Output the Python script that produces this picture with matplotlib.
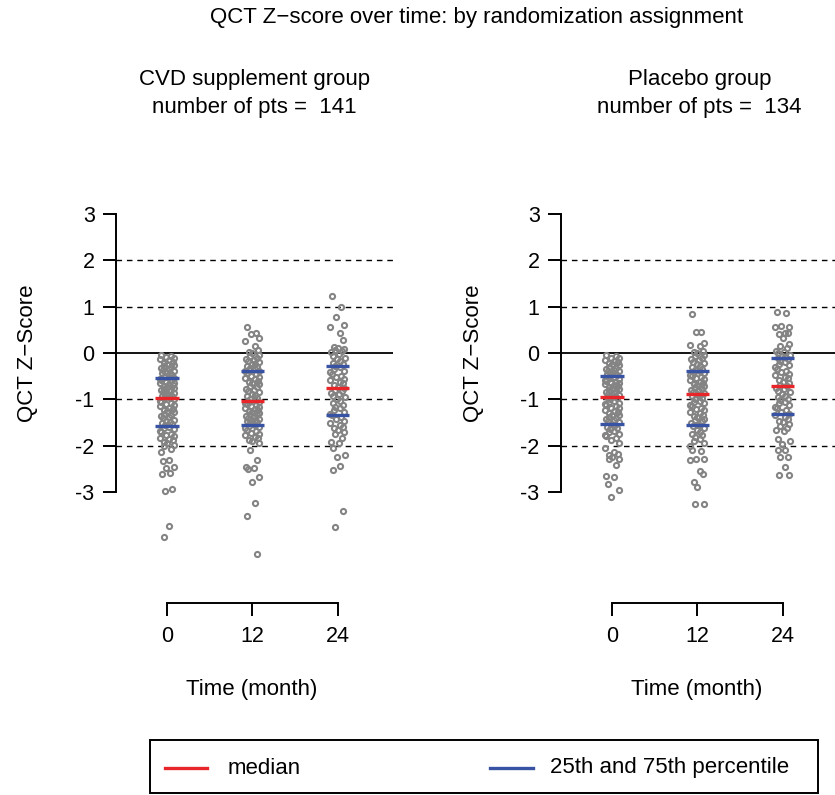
import matplotlib
matplotlib.use("Agg")
import matplotlib.pyplot as plt
from matplotlib.lines import Line2D
from matplotlib.patches import Rectangle

plt.rcParams.update({"font.family": ["Liberation Sans", "DejaVu Sans"],
                     "axes.unicode_minus": False})

TIMES = [0, 12, 24]
GROUPS = ["CVD supplement group", "Placebo group"]
N_PTS = [141, 134]

# z-scores, one list per group and visit
CVD_0 = [-0.04, -0.06, -0.09, -0.11, -0.14, -0.16, -0.19, -0.21, -0.23, -0.26, -0.28, -0.30,
         -0.33, -0.35, -0.36, -0.39, -0.41, -0.43, -0.44, -0.47, -0.49, -0.51, -0.52, -0.54,
         -0.56, -0.58, -0.60, -0.62, -0.65, -0.66, -0.68, -0.70, -0.72, -0.74, -0.76, -0.78,
         -0.80, -0.81, -0.83, -0.85, -0.87, -0.88, -0.90, -0.92, -0.93, -0.95, -0.96, -0.98,
         -1.00, -1.03, -1.05, -1.08, -1.10, -1.13, -1.15, -1.18, -1.21, -1.23, -1.26, -1.28,
         -1.31, -1.33, -1.36, -1.38, -1.41, -1.44, -1.46, -1.49, -1.51, -1.54, -1.56, -1.59,
         -1.62, -1.65, -1.68, -1.71, -1.74, -1.77, -1.80, -1.83, -1.86, -1.89, -1.92, -1.95,
         -1.98, -2.01, -2.07, -2.13, -2.31, -2.33, -2.46, -2.48, -2.59, -2.61, -2.94, -2.98,
         -3.73, -3.97]
CVD_12 = [0.57, 0.44, 0.41, 0.33, 0.26, 0.14, 0.07, 0.02, -0.01, -0.04, -0.07, -0.10,
          -0.13, -0.15, -0.18, -0.20, -0.23, -0.25, -0.28, -0.30, -0.32, -0.34, -0.36, -0.38,
          -0.40, -0.43, -0.46, -0.49, -0.52, -0.54, -0.57, -0.60, -0.63, -0.65, -0.68, -0.71,
          -0.74, -0.77, -0.80, -0.82, -0.85, -0.88, -0.91, -0.94, -0.97, -0.99, -1.02, -1.05,
          -1.07, -1.09, -1.11, -1.13, -1.15, -1.17, -1.19, -1.21, -1.23, -1.26, -1.28, -1.30,
          -1.32, -1.34, -1.36, -1.38, -1.40, -1.42, -1.44, -1.46, -1.48, -1.50, -1.52, -1.55,
          -1.57, -1.60, -1.63, -1.66, -1.69, -1.72, -1.75, -1.78, -1.81, -1.84, -1.87, -1.90,
          -1.94, -2.09, -2.31, -2.46, -2.48, -2.50, -2.68, -2.78, -3.24, -3.53, -4.34]
CVD_24 = [1.22, 1.00, 0.78, 0.60, 0.56, 0.44, 0.28, 0.12, 0.10, 0.09, 0.07, 0.04,
          0.01, -0.03, -0.07, -0.11, -0.14, -0.18, -0.21, -0.24, -0.28, -0.31, -0.35,
          -0.38, -0.42, -0.45, -0.49, -0.52, -0.56, -0.59, -0.63, -0.66, -0.70, -0.73,
          -0.75, -0.79, -0.82, -0.86, -0.89, -0.93, -0.96, -1.00, -1.04, -1.08, -1.12,
          -1.16, -1.20, -1.24, -1.28, -1.32, -1.35, -1.39, -1.43, -1.47, -1.51, -1.55,
          -1.59, -1.63, -1.67, -1.71, -1.76, -1.84, -1.92, -1.94, -2.05, -2.20, -2.24,
          -2.45, -2.52, -3.41, -3.76]
PLA_0 = [-0.04, -0.07, -0.10, -0.12, -0.15, -0.17, -0.20, -0.22, -0.25, -0.27, -0.30, -0.32,
         -0.34, -0.36, -0.38, -0.40, -0.42, -0.44, -0.46, -0.48, -0.50, -0.52, -0.54, -0.56,
         -0.58, -0.60, -0.62, -0.64, -0.66, -0.68, -0.70, -0.72, -0.74, -0.76, -0.78, -0.80,
         -0.82, -0.84, -0.86, -0.88, -0.90, -0.92, -0.94, -0.95, -0.97, -1.00, -1.03, -1.05,
         -1.08, -1.10, -1.13, -1.15, -1.18, -1.20, -1.23, -1.25, -1.28, -1.30, -1.33, -1.35,
         -1.38, -1.40, -1.43, -1.45, -1.48, -1.50, -1.53, -1.56, -1.59, -1.62, -1.65, -1.68,
         -1.71, -1.74, -1.77, -1.80, -1.84, -1.88, -1.94, -2.05, -2.15, -2.18, -2.20, -2.25,
         -2.28, -2.30, -2.42, -2.66, -2.68, -2.83, -2.96, -3.11]
PLA_12 = [0.84, 0.46, 0.45, 0.22, 0.18, 0.14, 0.05, 0.02, -0.01, -0.04, -0.07, -0.10,
          -0.13, -0.16, -0.19, -0.22, -0.25, -0.28, -0.31, -0.34, -0.37, -0.40, -0.42, -0.44,
          -0.47, -0.49, -0.52, -0.54, -0.57, -0.59, -0.62, -0.64, -0.67, -0.69, -0.72, -0.74,
          -0.77, -0.79, -0.82, -0.84, -0.86, -0.88, -0.91, -0.94, -0.97, -1.00, -1.03, -1.06,
          -1.09, -1.12, -1.15, -1.18, -1.21, -1.24, -1.27, -1.30, -1.33, -1.36, -1.39, -1.42,
          -1.45, -1.48, -1.51, -1.55, -1.58, -1.62, -1.66, -1.70, -1.74, -1.78, -1.82, -1.86,
          -1.90, -1.95, -2.00, -2.10, -2.12, -2.28, -2.30, -2.32, -2.54, -2.61, -2.78, -2.89,
          -3.26, -3.26]
PLA_24 = [0.88, 0.86, 0.58, 0.56, 0.55, 0.43, 0.42, 0.41, 0.32, 0.19, 0.16, 0.11, 0.05,
          0.02, -0.01, -0.04, -0.07, -0.09, -0.11, -0.14, -0.17, -0.20, -0.24, -0.27, -0.31,
          -0.34, -0.38, -0.41, -0.45, -0.48, -0.52, -0.55, -0.59, -0.62, -0.66, -0.69, -0.72,
          -0.75, -0.78, -0.82, -0.85, -0.88, -0.92, -0.95, -0.99, -1.02, -1.06, -1.09, -1.13,
          -1.16, -1.20, -1.24, -1.27, -1.31, -1.34, -1.38, -1.42, -1.46, -1.50, -1.54, -1.58,
          -1.62, -1.66, -1.68, -1.86, -1.90, -1.97, -2.09, -2.10, -2.24, -2.25, -2.47, -2.63,
          -2.64]
SCORES = [[CVD_0, CVD_12, CVD_24], [PLA_0, PLA_12, PLA_24]]

# quartiles: 75th, median, 25th
Q75 = [[-0.55, -0.38, -0.28], [-0.50, -0.40, -0.11]]
MED = [[-0.97, -1.04, -0.76], [-0.95, -0.88, -0.72]]
Q25 = [[-1.58, -1.55, -1.35], [-1.53, -1.55, -1.31]]

# horizontal jitter (months), reused in turn
JIT = [-0.8, 0.5, -0.2, 0.9, -1.0, 0.3, 0.8, -0.5, 0.0, 0.9, -0.4, 0.6, -0.9,
       0.2, -0.6, 1.0, -0.1, 0.4, -0.7, 0.7, -0.3, 0.3, -0.5, 0.9, -1.0]

RED, BLUE, GREY = "#E8262A", "#3953A4", "#848484"
W, H = 835, 795
XLIM = (-7.2, 31.8)
YLIM = (-5.40, 3.41)
PANEL_X = [116, 561]
PANEL_W, TOP_PX, BOT_PX = 277, 195, 603
FS = 16

fig = plt.figure(figsize=(W / 100, H / 100), dpi=100)

for g in range(2):
    ax = fig.add_axes([PANEL_X[g] / W, 1 - BOT_PX / H, PANEL_W / W, (BOT_PX - TOP_PX) / H])
    ax.set_xlim(*XLIM); ax.set_ylim(*YLIM)
    for y in (2, 1, -1, -2):
        ax.axhline(y, color="black", lw=1.0, ls=(0, (4, 3.5)), zorder=1)
    ax.axhline(0, color="black", lw=1.3, zorder=1)
    for k, t in enumerate(TIMES):
        ys = SCORES[g][k]
        xs = [t + JIT[i % len(JIT)] for i in range(len(ys))]
        ax.plot(xs, ys, "o", ms=3.7, mfc="none", mec=GREY, mew=1.5, zorder=2, clip_on=False)
        for val, col in ((Q75[g][k], BLUE), (MED[g][k], RED), (Q25[g][k], BLUE)):
            ax.plot([t - 1.65, t + 1.65], [val, val], color=col, lw=2.4, zorder=3,
                    solid_capstyle="butt")
    for s in ("top", "right"):
        ax.spines[s].set_visible(False)
    ax.spines["left"].set_bounds(-3, 3); ax.spines["left"].set_linewidth(1.4)
    ax.spines["bottom"].set_bounds(0, 24); ax.spines["bottom"].set_linewidth(1.4)
    ax.set_yticks(range(-3, 4)); ax.set_xticks(TIMES)
    ax.tick_params(axis="y", length=9.4, width=1.4, pad=6, labelsize=15.5)
    ax.tick_params(axis="x", length=9.4, width=1.4, pad=7, labelsize=15.5)
    ax.patch.set_visible(False)

    cx = PANEL_X[g] + PANEL_W / 2
    fig.text(cx / W, 1 - 80 / H, GROUPS[g], ha="center", va="center", fontsize=FS)
    fig.text(cx / W, 1 - 107 / H, f"number of pts =  {N_PTS[g]}", ha="center",
             va="center", fontsize=FS)
    fig.text((PANEL_X[g] - 88) / W, 1 - 353 / H, "QCT Z\u2212Score", rotation=90,
             ha="center", va="center", fontsize=FS)
    fig.text((PANEL_X[g] + 136) / W, 1 - 689 / H, "Time (month)", ha="center",
             va="center", fontsize=FS)

fig.text(477 / W, 1 - 18 / H, "QCT Z\u2212score over time: by randomization assignment",
         ha="center", va="center", fontsize=FS)

# legend box
lg = fig.add_axes([0, 0, 1, 1]); lg.set_xlim(0, W); lg.set_ylim(H, 0); lg.axis("off")
lg.add_patch(Rectangle((150, 740), 668, 53, fill=False, lw=1.4, ec="black"))
lg.add_line(Line2D([165, 207], [768, 768], color=RED, lw=2.4))
lg.text(228, 768, "median", va="center", fontsize=FS)
lg.add_line(Line2D([490, 533], [768, 768], color=BLUE, lw=2.4))
lg.text(550, 768, "25th and 75th percentile", va="center", fontsize=FS)

fig.savefig("out.png", dpi=100)
